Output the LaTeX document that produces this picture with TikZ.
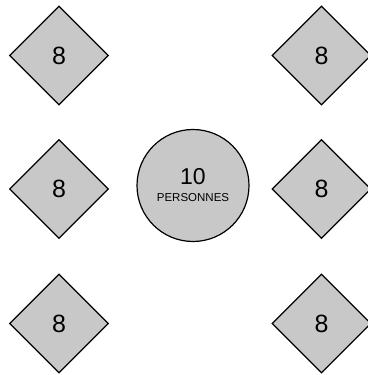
\documentclass[tikz,border=0pt]{standalone}
\usepackage{fontspec}
\setmainfont{Liberation Sans}
\usetikzlibrary{shapes.geometric}
\definecolor{tablegray}{HTML}{C8C8C8}
\begin{document}
\begin{tikzpicture}[x=1pt,y=-1pt,
  table8/.style={diamond, draw=black, fill=tablegray, line width=1.2pt,
    minimum width=99pt, minimum height=99pt, inner sep=0pt, shape aspect=1,
    font=\fontsize{25}{27}\selectfont},
  roundtable/.style={circle, draw=black, fill=tablegray, line width=1.2pt,
    minimum size=112pt, inner sep=0pt}]
\useasboundingbox (0,0) rectangle (367,375);
\node[table8] (l1) at (59,55.5) {8};
\node[table8] (l2) at (59,189) {8};
\node[table8] (l3) at (59,323.5) {8};
\node[table8] (r1) at (321.5,55.5) {8};
\node[table8] (r2) at (321.5,189) {8};
\node[table8] (r3) at (321.5,323.5) {8};
\node[roundtable] (c) at (193,185.5) {};
\node[font=\fontsize{23}{25}\selectfont] (ten) at (193,176.5) {10};
\node[font=\fontsize{11.5}{12}\selectfont] (pers) at (193,198) {PERSONNES};
\end{tikzpicture}
\end{document}
